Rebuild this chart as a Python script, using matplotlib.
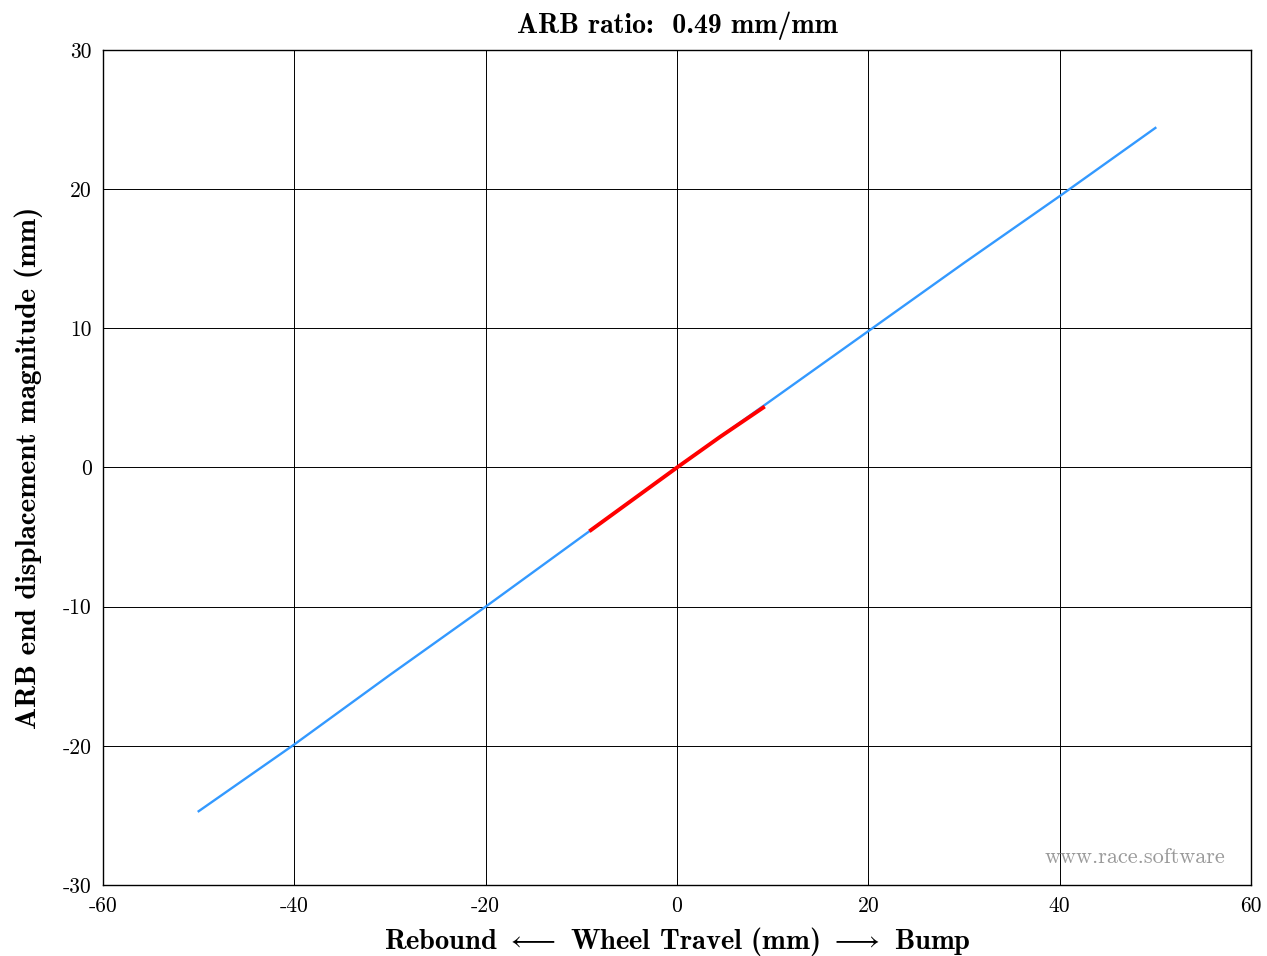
import matplotlib
matplotlib.use("Agg")
import matplotlib.pyplot as plt

# Data
travel_full = [-50, -40, -30, -20, -10, 0, 10, 20, 30, 40, 50]
arb_full = [-24.7, -19.9, -14.9, -10.0, -5.0, 0.0, 4.9, 9.8, 14.7, 19.5, 24.4]
travel_range = [-9, -4.5, 0, 4.5, 9]
arb_range = [-4.5, -2.25, 0.0, 2.2, 4.3]

xticks = [-60, -40, -20, 0, 20, 40, 60]
yticks = [-30, -20, -10, 0, 10, 20, 30]

plt.rcParams['axes.unicode_minus'] = False
plt.rcParams['mathtext.fontset'] = 'cm'

fig = plt.figure(figsize=(12.67, 9.56), dpi=100)
ax = fig.add_axes([0.0813, 0.0743, 0.9061, 0.8734])

ax.plot(travel_full, arb_full, color='#3399ff', lw=1.7, zorder=3)
ax.plot(travel_range, arb_range, color='#ff0000', lw=2.8, zorder=4)

ax.set_xlim(-60, 60)
ax.set_ylim(-30, 30)
ax.set_xticks(xticks)
ax.set_yticks(yticks)
ax.set_xticklabels([str(v) for v in xticks], family='cmr10', fontsize=15.5)
ax.set_yticklabels([str(v) for v in yticks], family='cmr10', fontsize=15.5)
ax.grid(True, color='black', lw=0.7)
ax.tick_params(direction='in', length=4, width=0.7, top=True, right=True, pad=8)
for s in ax.spines.values():
    s.set_linewidth(1.0)
    s.set_color('black')

ax.set_title('ARB ratio:  0.49 mm/mm', family='cmb10', fontsize=20, pad=12)
ax.set_xlabel(r'Rebound $\longleftarrow$ Wheel Travel (mm) $\longrightarrow$ Bump',
              family='cmb10', fontsize=20.5, labelpad=7)
ax.set_ylabel('ARB end displacement magnitude (mm)', family='cmb10', fontsize=21, labelpad=14)

ax.text(0.978, 0.022, 'www.race.software', transform=ax.transAxes, ha='right', va='bottom',
        family='cmr10', fontsize=16, color='#999999')

fig.savefig('out.png', dpi=100)
